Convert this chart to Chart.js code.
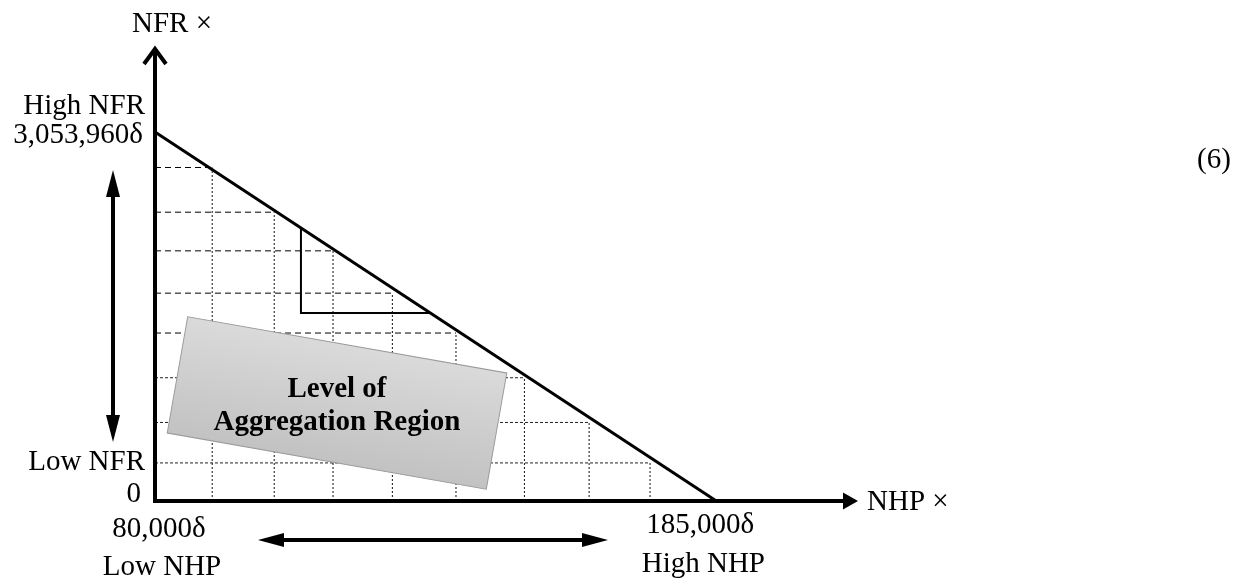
<!DOCTYPE html>
<html>
<head>
<meta charset="utf-8">
<script src="https://cdn.jsdelivr.net/npm/chart.js@4"></script>
<style>
  html, body { margin: 0; padding: 0; background: #fff; }
</style>
</head>
<body>
<canvas id="chart" width="1244" height="580"></canvas>
<script>
// values
const nhpRange = [80000, 185000];
const nfrRange = [0, 3053960];
const gridNHP = [90700, 102300, 113300, 124400, 136300, 149100, 161200, 172600];
const gridNFR = [2760000, 2390000, 2070000, 1720000, 1390000, 1020000, 650000, 315000];
const stepNHP = [107300, 131500];
const stepNFR = [2259000, 1556000];
const yTickLabels = ['High NFR', '3,053,960δ', 'Low NFR', '0'];
const xTickLabels = ['80,000δ', 'Low NHP', '185,000δ', 'High NHP'];
const axisTitles = ['NFR ×', 'NHP ×'];
const regionLabel = ['Level of', 'Aggregation Region'];
const eqNumber = '(6)';

const FONT = '"Liberation Serif", "Times New Roman", serif';

function line(points, opts) {
    return Object.assign({
        data: points,
        showLine: true,
        pointRadius: 0,
        borderColor: '#000',
        borderWidth: 1,
        fill: false,
        clip: false
    }, opts);
}

const datasets = [];
// horizontal grid: from the NFR axis to the diagonal
gridNFR.forEach(function (v, i) {
    datasets.push(line([{ x: nhpRange[0], y: v }, { x: gridNHP[i], y: v }],
        { borderDash: i < 5 ? [6, 4] : [3, 2], borderColor: i < 5 ? '#000' : '#222' }));
});
// vertical grid: from the NHP axis up to the diagonal
gridNHP.forEach(function (v, i) {
    datasets.push(line([{ x: v, y: nfrRange[0] }, { x: v, y: gridNFR[i] }],
        { borderDash: [2, 2], borderColor: '#111' }));
});
// step
datasets.push(line([
    { x: stepNHP[0], y: stepNFR[0] },
    { x: stepNHP[0], y: stepNFR[1] },
    { x: stepNHP[1], y: stepNFR[1] }
], { borderWidth: 2 }));
// diagonal limit
datasets.push(line([
    { x: nhpRange[0], y: nfrRange[1] },
    { x: nhpRange[1], y: nfrRange[0] }
], { borderWidth: 3 }));

function tri(ctx, a, b, c) {
    ctx.beginPath();
    ctx.moveTo(a[0], a[1]);
    ctx.lineTo(b[0], b[1]);
    ctx.lineTo(c[0], c[1]);
    ctx.closePath();
    ctx.fill();
}

const diagramPlugin = {
    id: 'diagram',
    afterDatasetsDraw(chart) {
        const ctx = chart.ctx;
        const sx = chart.scales.x, sy = chart.scales.y;
        const x0 = sx.getPixelForValue(nhpRange[0]);
        const y0 = sy.getPixelForValue(nfrRange[0]);
        const yHigh = sy.getPixelForValue(nfrRange[1]);
        const xHigh = sx.getPixelForValue(nhpRange[1]);
        const xEnd = sx.getPixelForValue(sx.max);
        const yEnd = sy.getPixelForValue(sy.max);
        ctx.save();

        // rotated grey region box
        ctx.save();
        ctx.translate(337, 403);
        ctx.rotate(10 * Math.PI / 180);
        const g = ctx.createLinearGradient(0, -59, 0, 59);
        g.addColorStop(0, '#dadada');
        g.addColorStop(1, '#c2c2c2');
        ctx.fillStyle = g;
        ctx.fillRect(-162, -59, 324, 118);
        ctx.strokeStyle = '#9a9a9a';
        ctx.lineWidth = 1;
        ctx.strokeRect(-162, -59, 324, 118);
        ctx.restore();

        ctx.fillStyle = '#000';
        ctx.textAlign = 'center';
        ctx.textBaseline = 'alphabetic';
        ctx.font = 'bold 29px ' + FONT;
        ctx.fillText(regionLabel[0], 337, 397);
        ctx.fillText(regionLabel[1], 337, 430);

        // axes
        ctx.strokeStyle = '#000';
        ctx.fillStyle = '#000';
        ctx.lineWidth = 4;
        ctx.lineCap = 'butt';
        ctx.beginPath();
        ctx.moveTo(x0, y0 + 2);
        ctx.lineTo(x0, yEnd + 2);
        ctx.moveTo(x0 - 2, y0);
        ctx.lineTo(xEnd - 14, y0);
        ctx.stroke();
        ctx.lineWidth = 4;
        ctx.lineJoin = 'miter';
        ctx.beginPath();
        ctx.moveTo(x0 - 11, yEnd + 17);
        ctx.lineTo(x0, yEnd + 2);
        ctx.lineTo(x0 + 11, yEnd + 17);
        ctx.stroke();
        tri(ctx, [xEnd, y0], [xEnd - 15, y0 - 8.5], [xEnd - 15, y0 + 8.5]);

        // double arrows
        ctx.lineWidth = 4;
        ctx.beginPath();
        ctx.moveTo(113, 192);
        ctx.lineTo(113, 420);
        ctx.moveTo(280, 540);
        ctx.lineTo(586, 540);
        ctx.stroke();
        tri(ctx, [113, 170], [106, 197], [120, 197]);
        tri(ctx, [113, 442], [106, 415], [120, 415]);
        tri(ctx, [258, 540], [284, 533], [284, 547]);
        tri(ctx, [608, 540], [582, 533], [582, 547]);

        // labels
        ctx.font = '29px ' + FONT;
        ctx.textAlign = 'left';
        ctx.fillText(axisTitles[0], 132, 32);
        ctx.fillText(axisTitles[1], xEnd + 9, y0 + 9);
        ctx.fillText(eqNumber, 1197, 168);

        ctx.textAlign = 'right';
        ctx.fillText(yTickLabels[0], x0 - 10, yHigh - 18);
        ctx.fillText(yTickLabels[1], x0 - 12, yHigh + 11);
        ctx.fillText(yTickLabels[2], x0 - 10, y0 - 31);
        ctx.fillText(yTickLabels[3], x0 - 14, y0 + 1);

        ctx.textAlign = 'center';
        ctx.fillText(xTickLabels[0], x0 + 4, y0 + 36);
        ctx.fillText(xTickLabels[1], x0 + 7, y0 + 74);
        ctx.fillText(xTickLabels[2], xHigh - 16, y0 + 32);
        ctx.fillText(xTickLabels[3], xHigh - 13, y0 + 71);

        ctx.restore();
    }
};

new Chart(document.getElementById('chart').getContext('2d'), {
    type: 'scatter',
    data: { datasets: datasets },
    options: {
        responsive: false,
        animation: false,
        devicePixelRatio: 1,
        layout: { padding: { left: 155, right: 386, top: 47, bottom: 79 } },
        scales: {
            x: { type: 'linear', min: 80000, max: 211500, display: false },
            y: { type: 'linear', min: 0, max: 3757000, display: false }
        },
        plugins: {
            legend: { display: false },
            tooltip: { enabled: false }
        }
    },
    plugins: [diagramPlugin]
});
</script>
</body>
</html>
